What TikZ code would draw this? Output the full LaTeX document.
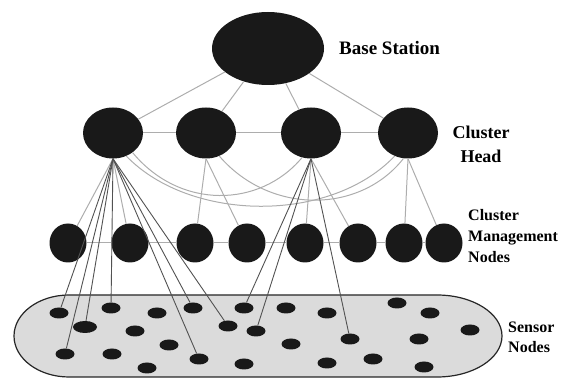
\documentclass[tikz,border=0pt]{standalone}
\usepackage{fontspec}
\setmainfont{Liberation Serif}
\usetikzlibrary{shapes.geometric}
\begin{document}
\begin{tikzpicture}[x=1pt,y=-1pt,
 blob/.style={ellipse, fill=black!90, inner sep=0pt},
 bsnode/.style={blob, minimum width=112pt, minimum height=73pt},
 headnode/.style={blob, minimum width=60pt, minimum height=51pt},
 mgmtnode/.style={blob, minimum width=37pt, minimum height=39pt},
 sensnode/.style={blob, minimum width=19pt, minimum height=11pt},
 sensbig/.style={blob, minimum width=24pt, minimum height=12pt},
 glink/.style={draw=black!32, line width=1pt},
 dlink/.style={draw=black!68, line width=0.9pt},
 lbl/.style={font=\bfseries\fontsize{16}{20.5}\selectfont, align=left, inner sep=0pt, anchor=west},
 region/.style={fill=black!14, draw=black!85, line width=1.2pt}
]
\useasboundingbox (0,0) rectangle (568,379);

% sensor field
\path[region] (69,295) -- (437,295)
  .. controls (473,295) and (502,313.5) .. (502,336)
  .. controls (502,358.5) and (473,377) .. (437,377)
  -- (69,377)
  .. controls (38.6,377) and (14,358.5) .. (14,336)
  .. controls (14,313.5) and (38.6,295) .. (69,295) -- cycle;

% base station
\node[bsnode] (bs) at (268,48.5) {};
\node[font=\bfseries\fontsize{19}{23}\selectfont, inner sep=0pt, anchor=west] (bslbl) at (339,48) {Base Station};

% cluster heads
\node[headnode] (ch1) at (113,133) {};
\node[headnode] (ch2) at (206,133) {};
\node[headnode] (ch3) at (311,133) {};
\node[headnode] (ch4) at (408,133) {};
\node[font=\bfseries\fontsize{18}{24}\selectfont, align=center, inner sep=0pt] (chlbl) at (481,144) {Cluster\\Head};

% cluster management nodes
\node[mgmtnode] (m1) at (68,243) {};
\node[mgmtnode] (m2) at (130,243) {};
\node[mgmtnode] (m3) at (195,243) {};
\node[mgmtnode] (m4) at (247,243) {};
\node[mgmtnode] (m5) at (305,243) {};
\node[mgmtnode] (m6) at (358,243) {};
\node[mgmtnode] (m7) at (404,243) {};
\node[mgmtnode] (m8) at (444,243) {};
\node[lbl, font=\bfseries\fontsize{16}{21}\selectfont] (cmlbl) at (468,236) {Cluster\\Management\\Nodes};

% sensor nodes
\node[sensnode] (s1) at (59,313) {};
\node[sensbig] (s2) at (85,327) {};
\node[sensnode] (s3) at (111,308) {};
\node[sensnode] (s4) at (157,313) {};
\node[sensnode] (s5) at (193,308) {};
\node[sensnode] (s6) at (135,331) {};
\node[sensnode] (s7) at (228,326) {};
\node[sensnode] (s8) at (244,308) {};
\node[sensnode] (s9) at (256,331) {};
\node[sensnode] (s10) at (65,354) {};
\node[sensnode] (s11) at (112,354) {};
\node[sensnode] (s12) at (169,345) {};
\node[sensnode] (s13) at (199,359) {};
\node[sensnode] (s14) at (147,368) {};
\node[sensnode] (s15) at (244,364) {};
\node[sensnode] (s16) at (286,308) {};
\node[sensnode] (s17) at (291,344) {};
\node[sensnode] (s18) at (327,313) {};
\node[sensnode] (s19) at (397,303) {};
\node[sensnode] (s20) at (430,313) {};
\node[sensnode] (s21) at (470,330) {};
\node[sensnode] (s22) at (350,339) {};
\node[sensnode] (s23) at (419,339) {};
\node[sensnode] (s24) at (327,363) {};
\node[sensnode] (s25) at (373,359) {};
\node[sensnode] (s26) at (424,367) {};
\node[lbl, font=\bfseries\fontsize{16}{19.5}\selectfont] (snlbl) at (508,337.5) {Sensor\\Nodes};

% base station to cluster heads
\draw[glink] (bs) -- (ch1);
\draw[glink] (bs) -- (ch2);
\draw[glink] (bs) -- (ch3);
\draw[glink] (bs) -- (ch4);

% cluster heads chain
\draw[glink] (ch1) -- (ch2);
\draw[glink] (ch2) -- (ch3);
\draw[glink] (ch3) -- (ch4);

% curved links between cluster heads
\draw[glink] (ch1.-60) .. controls (190,222) and (330,224) .. (ch4.-120);
\draw[glink] (ch1.-45) .. controls (180,210) and (260,208) .. (ch3.-110);
\draw[glink] (ch2.-60) .. controls (270,215) and (360,214) .. (ch4.-100);

% management node chain
\draw[glink] (m1) -- (m2);
\draw[glink] (m2) -- (m3);
\draw[glink] (m3) -- (m4);
\draw[glink] (m4) -- (m5);
\draw[glink] (m5) -- (m6);
\draw[glink] (m6) -- (m7);
\draw[glink] (m7) -- (m8);

% cluster heads to management nodes
\draw[glink] (ch1.south) -- (m1);
\draw[glink] (ch1.south) -- (m2);
\draw[glink] (ch2.south) -- (m3);
\draw[glink] (ch2.south) -- (m4);
\draw[glink] (ch3.south) -- (m5);
\draw[glink] (ch3.south) -- (m6);
\draw[glink] (ch4.south) -- (m7);
\draw[glink] (ch4.south) -- (m8);

% direct links to sensor nodes
\foreach \s in {s1,s2,s3,s10,s5,s7,s13}
  \draw[dlink] (ch1.south) -- (\s);
\foreach \s in {s8,s9,s22}
  \draw[dlink] (ch3.south) -- (\s);
\end{tikzpicture}
\end{document}
